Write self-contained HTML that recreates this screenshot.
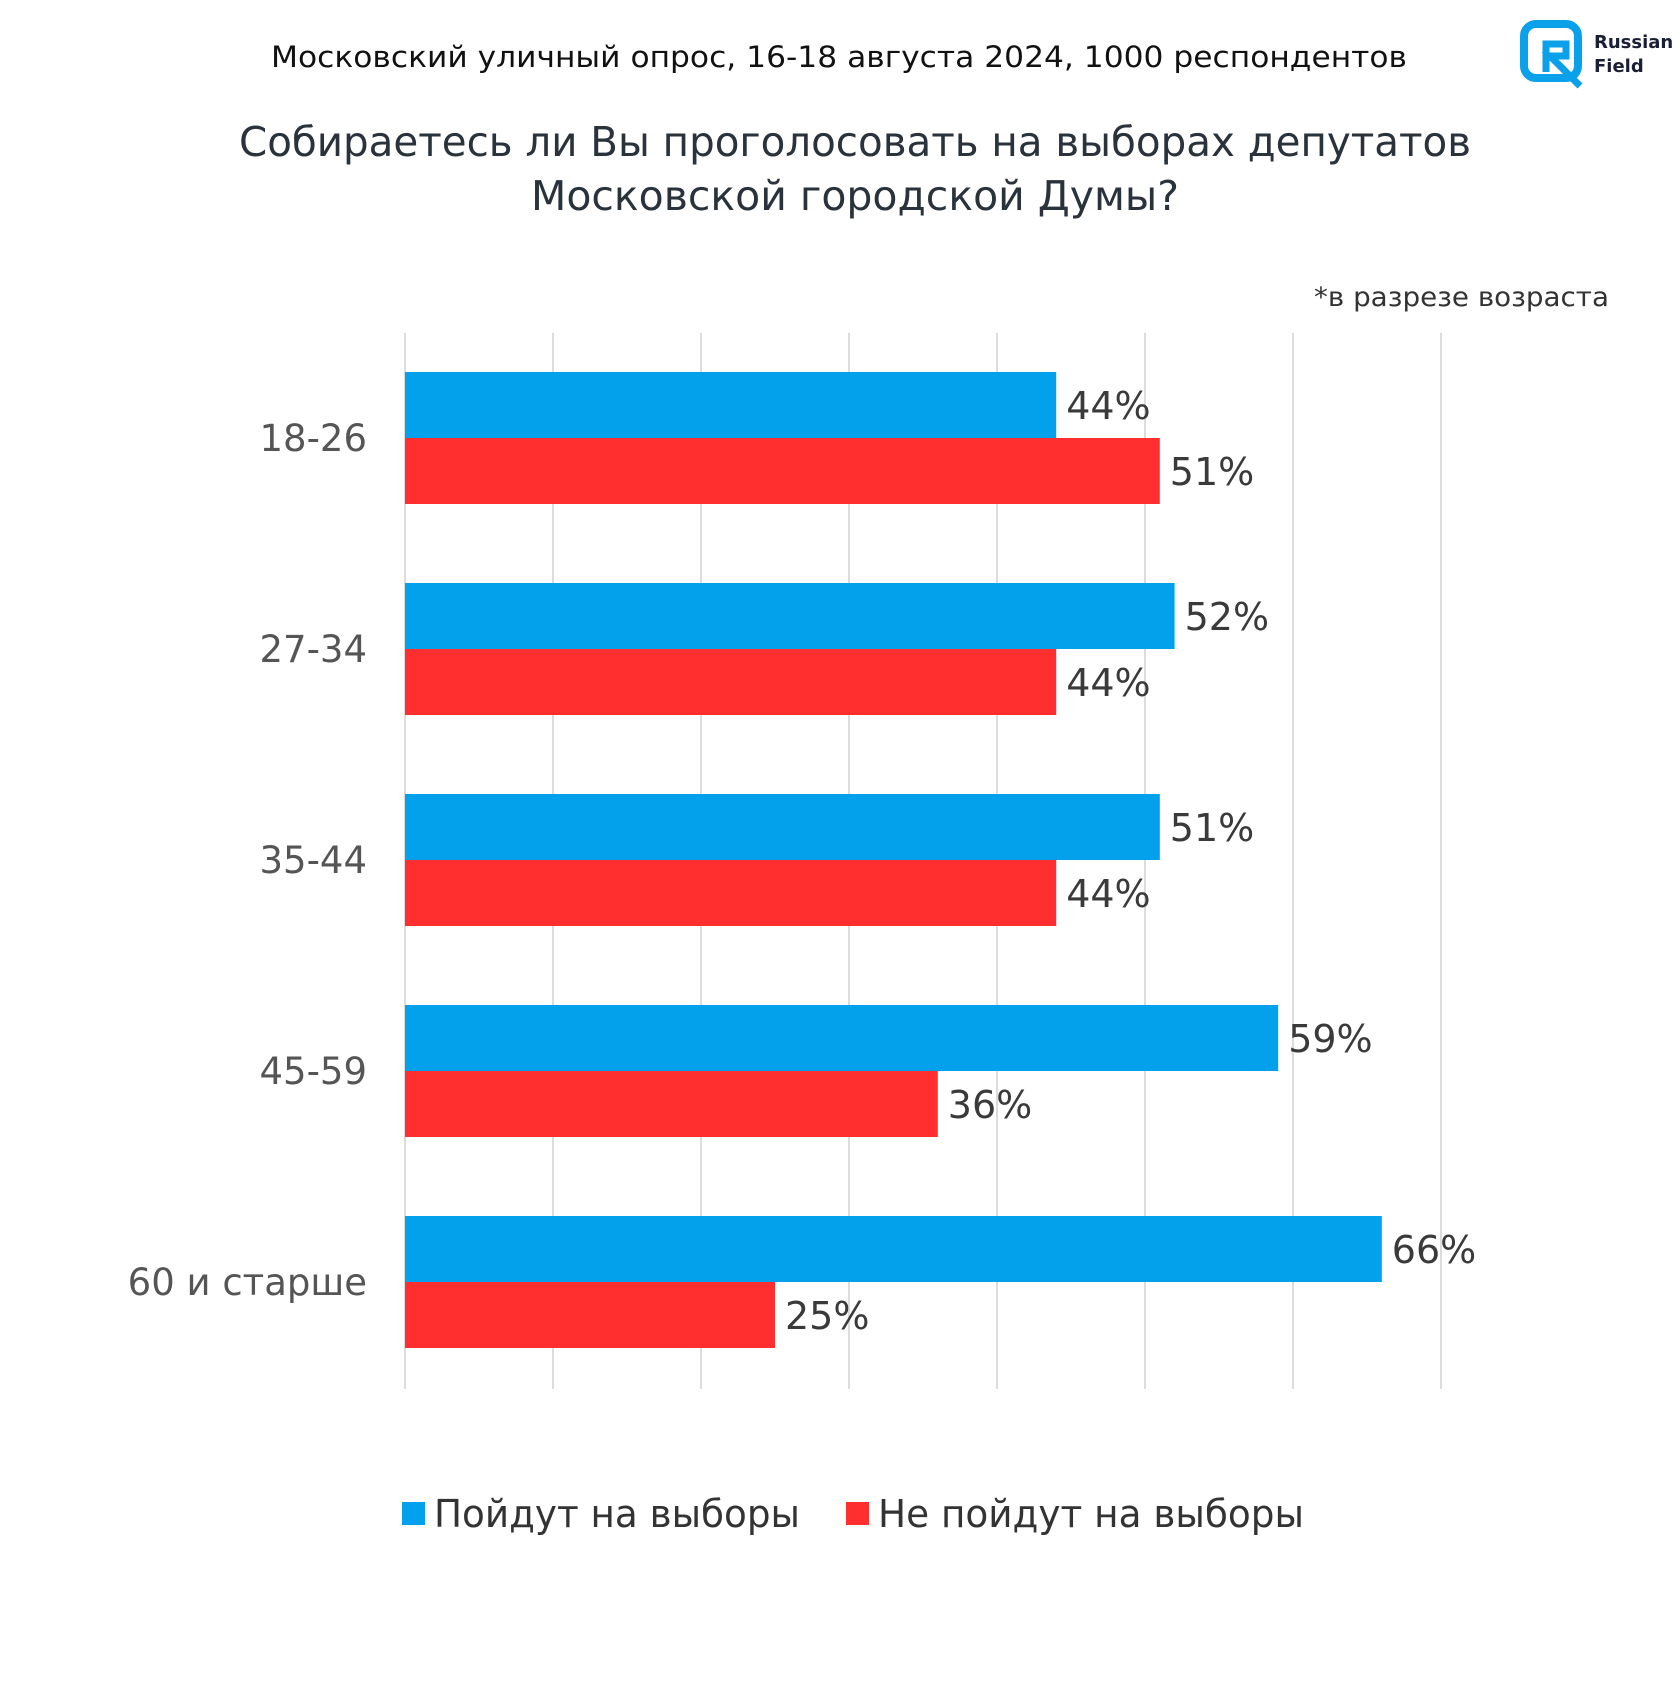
<!DOCTYPE html>
<html><head><meta charset="utf-8"><style>
body{margin:0;background:#fff;}
svg text{font-family:"DejaVu Sans","Liberation Sans",sans-serif;}
</style></head><body>
<svg id="c" width="1680" height="1680" viewBox="0 0 1680 1680" xmlns="http://www.w3.org/2000/svg">
<text x="271" y="67" font-size="29" textLength="1136" lengthAdjust="spacingAndGlyphs" fill="#111">Московский уличный опрос, 16-18 августа 2024, 1000 респондентов</text>
<g>
<rect x="1524" y="24" width="54" height="54" rx="12" fill="none" stroke="#0aa0ea" stroke-width="8"/>
<path d="M1546 72 V44 H1566 V56 H1550 L1580 86" fill="none" stroke="#0aa0ea" stroke-width="7"/>
<text x="1594" y="48" font-size="18" font-weight="bold" fill="#1a1f36">Russian</text>
<text x="1594" y="72" font-size="18" font-weight="bold" fill="#1a1f36">Field</text>
</g>
<text x="239" y="156" font-size="41" textLength="1232" lengthAdjust="spacingAndGlyphs" fill="#2a323c">Собираетесь ли Вы проголосовать на выборах депутатов</text>
<text x="531" y="210" font-size="41" textLength="648" lengthAdjust="spacingAndGlyphs" fill="#2a323c">Московской городской Думы?</text>
<text x="1314" y="306" font-size="27" textLength="295" lengthAdjust="spacingAndGlyphs" fill="#333">*в разрезе возраста</text>
<g id="grid"></g><g id="bars"></g>
<g>
<rect x="402" y="1502" width="23" height="23" fill="#03a0ec"/>
<text x="434" y="1527" font-size="38" textLength="366" lengthAdjust="spacingAndGlyphs" fill="#333">Пойдут на выборы</text>
<rect x="846" y="1502" width="23" height="23" fill="#ff2f2f"/>
<text x="878" y="1527" font-size="38" textLength="426" lengthAdjust="spacingAndGlyphs" fill="#333">Не пойдут на выборы</text>
</g>
</svg>
<script>
const categories=["18-26","27-34","35-44","45-59","60 и старше"];
const goValues=[44,52,51,59,66];
const notGoValues=[51,44,44,36,25];
const gridTicks=[0,10,20,30,40,50,60,70];
const NS="http://www.w3.org/2000/svg";
const x0=405,pxPer=14.8,top0=372,step=211,bh=66;
const xs=v=>x0+v*pxPer;
const grid=document.getElementById('grid'),bars=document.getElementById('bars');
function mk(tag,attrs,parent){const e=document.createElementNS(NS,tag);for(const k in attrs)e.setAttribute(k,attrs[k]);parent.appendChild(e);return e;}
gridTicks.forEach((t,i)=>{
const l=mk('line',{x1:xs(t),x2:xs(t),y1:333,y2:1389,stroke:'#dcdcdc','stroke-width':2},grid);


});
categories.forEach((c,i)=>{
const y=top0+i*step;
const lab=mk('text',{x:367,y:y+bh+13,'font-size':37,'text-anchor':'end',fill:'#555'},bars);lab.textContent=c;


[[goValues[i],'#03a0ec',y,'go'],[notGoValues[i],'#ff2f2f',y+bh,'not-go']].forEach(([v,col,yy,n])=>{
const r=mk('rect',{x:x0,y:yy,width:xs(v)-x0,height:bh,fill:col},bars);


const t=mk('text',{x:xs(v)+10,y:yy+bh/2+14,'font-size':38,fill:'#3a3a3a'},bars);t.textContent=v+'%';


});
});
</script>
</body></html>
